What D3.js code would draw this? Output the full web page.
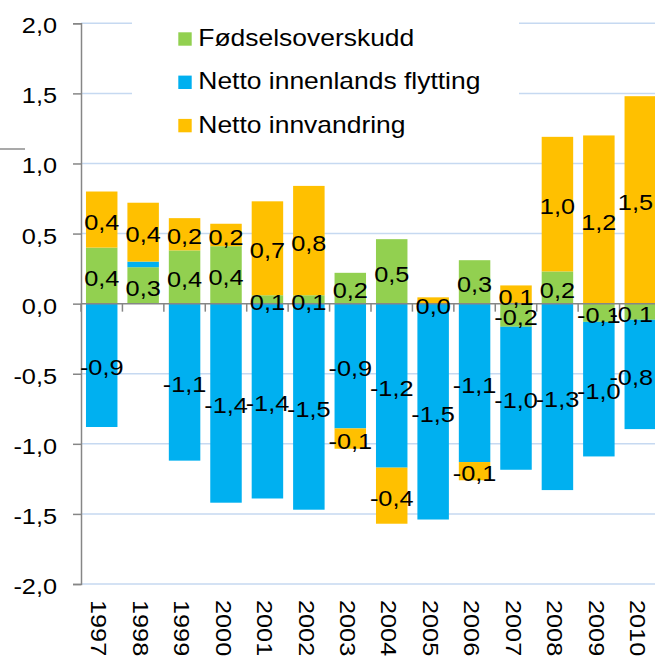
<!DOCTYPE html>
<html>
<head>
<meta charset="utf-8">
<script src="https://cdn.jsdelivr.net/npm/d3@7"></script>
<style>
  body { margin: 0; background: #fff; }
  svg { display: block; font-family: "Liberation Sans", Arial, sans-serif; }
</style>
</head>
<body>
<svg></svg>
<script>
let years = ["1997", "1998", "1999", "2000", "2001", "2002", "2003",
  "2004", "2005", "2006", "2007", "2008", "2009", "2010"];
let series = ["Fødselsoverskudd", "Netto innenlands flytting", "Netto innvandring"];

// values per year
let fodsel = [0.40, 0.26, 0.38, 0.41, 0.06, 0.06, 0.22, 0.46, 0.00, 0.31, -0.165, 0.23, -0.13, -0.115];
let innenlands = [-0.88, 0.04, -1.12, -1.42, -1.39, -1.47, -0.89, -1.17, -1.54, -1.13, -1.02, -1.33, -0.96, -0.78];
let innvandring = [0.40, 0.42, 0.23, 0.16, 0.67, 0.78, -0.145, -0.40, 0.045, -0.13, 0.13, 0.96, 1.20, 1.48];

let yTicks = [-2.0, -1.5, -1.0, -0.5, 0.0, 0.5, 1.0, 1.5, 2.0];
let colors = ["#92d050", "#00b0f0", "#ffc000"];

// labels Excel did not show
let hiddenLabels = [["1998", "Netto innenlands flytting"], ["2005", "Netto innvandring"]];

let width = 655;
let height = 659;
let stretch = 1.15;

let svg = d3.select("svg");
let xScale, yScale, stacked;

let fmt = d3.formatLocale({
  decimal: ",", thousands: " ", grouping: [3], currency: ["", ""], minus: "-"
}).format(".1f");

function drawCanvas() {
  svg.attr("width", width).attr("height", height);
}

function generateScales() {
  xScale = d3.scaleBand()
    .domain(years)
    .range([81, 661])
    .paddingInner(0.24)
    .paddingOuter(0.12);

  yScale = d3.scaleLinear()
    .domain([-2, 2])
    .range([584, 23.3]);

  let table = years.map((y, i) => ({
    year: y,
    [series[0]]: fodsel[i],
    [series[1]]: innenlands[i],
    [series[2]]: innvandring[i]
  }));

  stacked = d3.stack()
    .keys(series)
    .offset(d3.stackOffsetDiverging)(table);
}

function drawGrid() {
  svg.append("g")
    .selectAll("line")
    .data(yTicks.filter((d) => d !== 0))
    .enter()
    .append("line")
    .attr("x1", 81)
    .attr("x2", width)
    .attr("y1", (d) => yScale(d))
    .attr("y2", (d) => yScale(d))
    .attr("stroke", "#c6d9f1")
    .attr("stroke-width", 1.5);

  // stray grey mark at the left edge
  svg.append("line")
    .attr("x1", 0).attr("x2", 25)
    .attr("y1", 149).attr("y2", 149)
    .attr("stroke", "#8c8c8c")
    .attr("stroke-width", 1.5);
}

function drawLegend() {
  svg.append("rect")
    .attr("x", 132).attr("y", 8)
    .attr("width", 387).attr("height", 140)
    .attr("fill", "#fff");

  let item = svg.append("g")
    .selectAll("g")
    .data(series)
    .enter()
    .append("g")
    .attr("transform", (d, i) => `translate(178.3, ${39 + i * 43.3})`);

  item.append("rect")
    .attr("y", -6.7)
    .attr("width", 13.4)
    .attr("height", 13.4)
    .attr("fill", (d, i) => colors[i]);

  item.append("text")
    .attr("transform", `translate(20, 7) scale(${stretch}, 1)`)
    .style("font-size", "23px")
    .text((d) => d);
}

function drawBars() {
  svg.append("g")
    .selectAll("g")
    .data(stacked)
    .enter()
    .append("g")
    .attr("fill", (d, i) => colors[i])
    .selectAll("rect")
    .data((d) => d)
    .enter()
    .append("rect")
    .attr("x", (d) => xScale(d.data.year))
    .attr("width", xScale.bandwidth())
    .attr("y", (d) => yScale(Math.max(d[0], d[1])))
    .attr("height", (d) => Math.abs(yScale(d[0]) - yScale(d[1])));
}

function generateAxes() {
  let yAxis = d3.axisLeft(yScale)
    .tickValues(yTicks)
    .tickSize(8)
    .tickFormat(fmt);

  let gy = svg.append("g")
    .attr("transform", "translate(81, 0)")
    .call(yAxis);

  gy.select(".domain").attr("stroke", "#868686").attr("stroke-width", 1.5);
  gy.selectAll(".tick line").attr("stroke", "#868686").attr("stroke-width", 1.5);
  gy.selectAll(".tick text")
    .attr("x", -24 / stretch)
    .attr("dy", "0.43em")
    .attr("transform", `scale(${stretch}, 1)`)
    .style("font-size", "22px")
    .style("font-family", "'Liberation Sans', Arial, sans-serif")
    .attr("fill", "#000");

  // category axis sits on zero, ticks between bars
  let y0 = yScale(0);
  let step = xScale.step();
  let bounds = years.map((y) => xScale(y) - (step - xScale.bandwidth()) / 2);
  bounds.push(bounds[bounds.length - 1] + step);

  svg.append("line")
    .attr("x1", 81).attr("x2", width)
    .attr("y1", y0).attr("y2", y0)
    .attr("stroke", "#868686")
    .attr("stroke-width", 1.5);

  svg.append("g")
    .selectAll("line")
    .data(bounds)
    .enter()
    .append("line")
    .attr("x1", (d) => d).attr("x2", (d) => d)
    .attr("y1", y0).attr("y2", y0 + 8)
    .attr("stroke", "#868686")
    .attr("stroke-width", 1.5);

  svg.append("g")
    .selectAll("text")
    .data(years)
    .enter()
    .append("text")
    .attr("transform", (d) =>
      `translate(${xScale(d) + xScale.bandwidth() / 2 - 2.3}, 600) rotate(90) scale(${stretch}, 1)`)
    .attr("dy", "0.36em")
    .style("font-size", "22px")
    .text((d) => d);
}

function drawLabels() {
  let points = [];
  stacked.forEach((layer) => {
    layer.forEach((d) => {
      let hidden = hiddenLabels.some((h) => h[0] === d.data.year && h[1] === layer.key);
      if (!hidden) {
        points.push({
          year: d.data.year,
          value: d.data[layer.key],
          mid: (yScale(d[0]) + yScale(d[1])) / 2
        });
      }
    });
  });

  svg.append("g")
    .selectAll("text")
    .data(points)
    .enter()
    .append("text")
    .attr("text-anchor", "middle")
    .attr("dy", "0.46em")
    .style("font-size", "22px")
    .text((d) => fmt(d.value))
    .attr("transform", function (d) {
      let w = this.getComputedTextLength() * stretch;
      let cx = Math.min(xScale(d.year) + xScale.bandwidth() / 2, 653 - w / 2);
      return `translate(${cx}, ${d.mid}) scale(${stretch}, 1)`;
    });
}

drawCanvas();
generateScales();
drawGrid();
drawLegend();
drawBars();
generateAxes();
drawLabels();
</script>
</body>
</html>
